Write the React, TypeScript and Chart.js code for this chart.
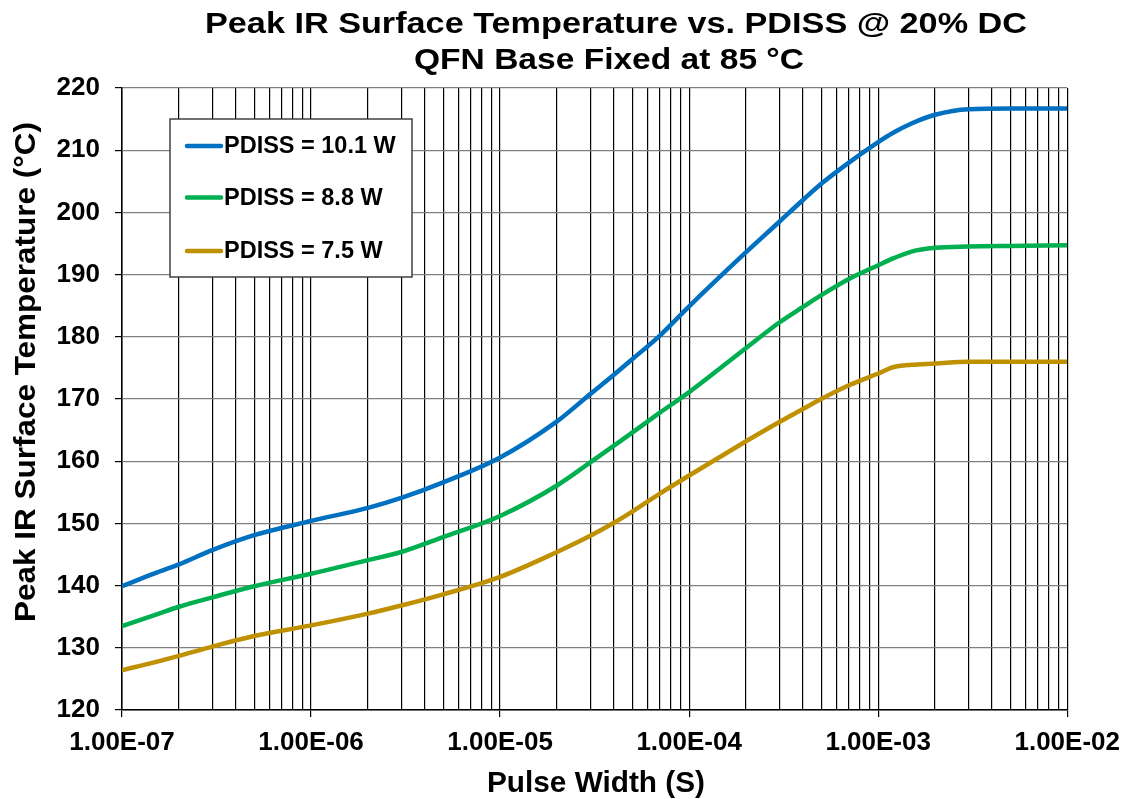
import React, { useEffect, useRef } from "react";
import { Chart, registerables } from "chart.js";

Chart.register(...registerables);

// ---- Data ----
const pulseWidth = [
  1e-7, 1.5e-7, 2e-7, 3e-7, 5e-7, 1e-6, 2e-6, 3e-6, 5e-6, 1e-5, 2e-5, 3e-5, 4e-5,
  5e-5, 7e-5, 1e-4, 2e-4, 3e-4, 4e-4, 5e-4, 7e-4, 1e-3, 1.2e-3, 1.5e-3, 2e-3, 3e-3,
  5e-3, 1e-2,
];
const pdiss101 = [
  139.9, 142.0, 143.4, 145.7, 148.1, 150.4, 152.5, 154.1, 156.6, 160.6, 166.4, 170.8,
  173.9, 176.4, 180.2, 184.9, 193.6, 198.5, 202.0, 204.6, 208.0, 211.3, 212.8, 214.3,
  215.7, 216.6, 216.7, 216.7,
];
const pdiss88 = [
  133.5, 135.3, 136.6, 138.1, 139.9, 141.9, 144.1, 145.4, 147.8, 151.2, 156.1, 159.8,
  162.5, 164.6, 167.8, 171.1, 178.2, 182.3, 184.8, 186.7, 189.3, 191.5, 192.6, 193.7,
  194.3, 194.5, 194.6, 194.7,
];
const pdiss75 = [
  126.4, 127.7, 128.7, 130.2, 131.9, 133.6, 135.5, 136.8, 138.6, 141.4, 145.4, 148.0,
  150.1, 151.9, 154.8, 157.7, 163.2, 166.3, 168.4, 170.0, 172.2, 174.1, 175.1, 175.5,
  175.7, 176.0, 176.0, 176.0,
];
const seriesLabels = ["PDISS = 10.1 W", "PDISS = 8.8 W", "PDISS = 7.5 W"];
const seriesColors = ["#0070C0", "#00B050", "#BF9000"];
const xTickLabels = ["1.00E-07", "1.00E-06", "1.00E-05", "1.00E-04", "1.00E-03", "1.00E-02"];
const titleLines = ["Peak IR Surface Temperature vs. PDISS @ 20% DC", "QFN Base Fixed at 85 °C"];
const xTitle = "Pulse Width (S)";
const yTitle = "Peak IR Surface Temperature (°C)";

const FONT = '"Liberation Sans", Arial, Helvetica, sans-serif';

const isDecade = (v: number) => {
  const l = Math.log10(v);
  return Math.abs(l - Math.round(l)) < 1e-6;
};

function drawFitted(
  ctx: CanvasRenderingContext2D,
  text: string,
  x: number,
  y: number,
  font: string,
  targetWidth: number
) {
  ctx.save();
  ctx.font = font;
  const w = ctx.measureText(text).width;
  const s = targetWidth / w;
  ctx.translate(x, y);
  ctx.scale(s, 1);
  ctx.textAlign = "center";
  ctx.textBaseline = "alphabetic";
  ctx.fillStyle = "#000";
  ctx.fillText(text, 0, 0);
  ctx.restore();
}

const decorPlugin = {
  id: "decor",
  afterDraw(chart: any) {
    const ctx: CanvasRenderingContext2D = chart.ctx;
    // Titles
    drawFitted(ctx, titleLines[0], 616, 33, `bold 30px ${FONT}`, 822);
    drawFitted(ctx, titleLines[1], 609, 69, `bold 30px ${FONT}`, 390);
    // X axis title
    drawFitted(ctx, xTitle, 596, 792, `bold 30px ${FONT}`, 218);
    // Y axis title (rotated)
    ctx.save();
    ctx.translate(35, 372);
    ctx.rotate(-Math.PI / 2);
    drawFitted(ctx, yTitle, 0, 0, `bold 30px ${FONT}`, 500);
    ctx.restore();

    // Legend
    const bx = 170, by = 119, bw = 242, bh = 158;
    ctx.save();
    ctx.fillStyle = "#fff";
    ctx.fillRect(bx, by, bw, bh);
    ctx.strokeStyle = "#404040";
    ctx.lineWidth = 1.5;
    ctx.strokeRect(bx, by, bw, bh);
    const rows = [146, 197.5, 251];
    seriesLabels.forEach((lab, i) => {
      ctx.strokeStyle = seriesColors[i];
      ctx.lineWidth = 4.5;
      ctx.lineCap = "round";
      ctx.beginPath();
      ctx.moveTo(187, rows[i]);
      ctx.lineTo(221, rows[i]);
      ctx.stroke();
      ctx.fillStyle = "#000";
      ctx.font = `bold 23.5px ${FONT}`;
      ctx.textAlign = "left";
      ctx.textBaseline = "middle";
      ctx.fillText(lab, 224, rows[i] + 1);
    });
    ctx.restore();
  },
};

export default function App() {
  const canvasRef = useRef<HTMLCanvasElement | null>(null);

  useEffect(() => {
    const canvas = canvasRef.current;
    if (!canvas) return;
    const seriesValues = [pdiss101, pdiss88, pdiss75];
    const chart = new Chart(canvas, {
      type: "line",
      data: {
        datasets: seriesValues.map((vals, i) => ({
          label: seriesLabels[i],
          data: pulseWidth.map((x, j) => ({ x, y: vals[j] })),
          borderColor: seriesColors[i],
          backgroundColor: seriesColors[i],
          borderWidth: 4.5,
          pointRadius: 0,
          cubicInterpolationMode: "monotone" as const,
          fill: false,
        })),
      },
      options: {
        responsive: false,
        animation: false,
        devicePixelRatio: 1,
        layout: { padding: { left: 0, right: 61, top: 88, bottom: 0 } },
        plugins: {
          legend: { display: false },
          title: { display: false },
          tooltip: { enabled: false },
        },
        scales: {
          x: {
            type: "logarithmic",
            min: 1e-7,
            max: 1e-2,
            afterBuildTicks: (scale: any) => {
              const t: any[] = [];
              for (let e = -7; e <= -2; e++) {
                for (let m = 1; m <= 9; m++) {
                  if (e === -2 && m > 1) break;
                  t.push({ value: m * Math.pow(10, e), major: m === 1 });
                }
              }
              scale.ticks = t;
            },
            afterFit: (scale: any) => {
              scale.height = 89;
            },
            ticks: {
              autoSkip: false,
              maxRotation: 0,
              minRotation: 0,
              padding: 10,
              color: "#000",
              font: { family: FONT, size: 26, weight: "bold" },
              callback: (value: any) => {
                const v = Number(value);
                if (!isDecade(v)) return "";
                return xTickLabels[Math.round(Math.log10(v)) + 7] ?? "";
              },
            },
            grid: {
              color: "#000",
              lineWidth: 1.2,
              tickLength: 7,
              tickColor: (ctx: any) =>
                ctx.tick && isDecade(ctx.tick.value) ? "#000" : "rgba(0,0,0,0)",
            },
            border: { color: "#000", width: 1.5 },
          },
          y: {
            type: "linear",
            min: 120,
            max: 220,
            afterFit: (scale: any) => {
              scale.width = 122;
            },
            ticks: {
              stepSize: 10,
              padding: 15,
              color: "#000",
              font: { family: FONT, size: 26, weight: "bold" },
            },
            grid: {
              color: "#808080",
              lineWidth: 1.2,
              tickLength: 7,
              tickColor: "#000",
            },
            border: { color: "#000", width: 1.5 },
          },
        },
      },
      plugins: [decorPlugin],
    });
    return () => chart.destroy();
  }, []);

  return (
    <div style={{ position: "fixed", left: 0, top: 0, width: 1130, height: 799, background: "#fff" }}>
      <canvas ref={canvasRef} width={1130} height={799} style={{ display: "block" }} />
    </div>
  );
}
